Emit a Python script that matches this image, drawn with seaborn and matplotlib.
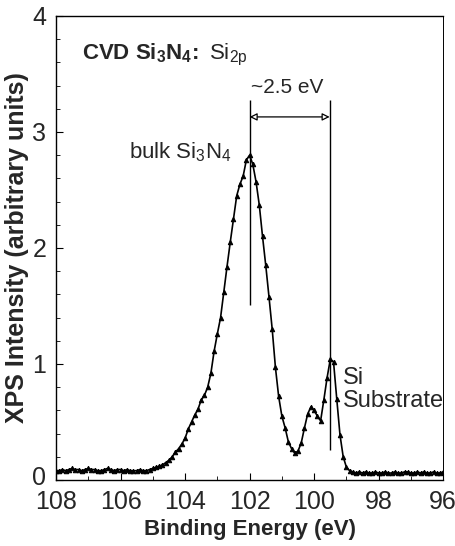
import numpy as np
import pandas as pd
import seaborn as sns
import matplotlib
matplotlib.use("Agg")
import matplotlib.pyplot as plt
from matplotlib.ticker import MultipleLocator
from matplotlib.transforms import ScaledTranslation

# ---- data ----
energy = np.round(np.linspace(108.0, 96.0, 121), 1)
baseline_left = [0.08, 0.08, 0.09, 0.08, 0.09, 0.10, 0.09, 0.09, 0.08, 0.09,
                 0.10, 0.09, 0.09, 0.08, 0.08, 0.09, 0.10, 0.09, 0.08, 0.09,
                 0.09, 0.08, 0.09, 0.08, 0.08, 0.08, 0.09, 0.08, 0.08, 0.09]
peaks = [0.10, 0.11, 0.12, 0.13, 0.15, 0.17, 0.20, 0.24, 0.27, 0.31,
         0.36, 0.44, 0.50, 0.56, 0.61, 0.69, 0.73, 0.80, 0.92, 1.11,
         1.26, 1.40, 1.62, 1.84, 2.05, 2.25, 2.45, 2.55, 2.62, 2.76,
         2.80, 2.72, 2.57, 2.37, 2.10, 1.85, 1.58, 1.30, 0.97, 0.72,
         0.55, 0.45, 0.33, 0.27, 0.23, 0.25, 0.32, 0.45, 0.57, 0.63,
         0.60, 0.55, 0.51, 0.69, 0.88, 1.04, 1.02, 0.70, 0.39, 0.20,
         0.11]
baseline_right = [0.08, 0.07, 0.06, 0.07, 0.06, 0.07, 0.06, 0.06, 0.07, 0.06,
                  0.06, 0.07, 0.06, 0.06, 0.07, 0.06, 0.06, 0.07, 0.07, 0.06,
                  0.06, 0.07, 0.06, 0.07, 0.06, 0.06, 0.07, 0.06, 0.06, 0.07]
intensity = baseline_left + peaks + baseline_right

bulk_peak = 102.0
si_peak = 99.52
xticks = [108, 106, 104, 102, 100, 98, 96]
yticks = [0, 1, 2, 3, 4]

df = pd.DataFrame({"energy": energy, "intensity": intensity})

# ---- style ----
sns.set_style("ticks")
plt.rcParams["font.family"] = ["Liberation Sans", "DejaVu Sans"]
plt.rcParams["mathtext.fontset"] = "custom"
plt.rcParams["mathtext.rm"] = "Liberation Sans"
plt.rcParams["mathtext.bf"] = "Liberation Sans:bold"
plt.rcParams["mathtext.it"] = "Liberation Sans:italic"
plt.rcParams["mathtext.default"] = "regular"

fig = plt.figure(figsize=(4.56, 5.46), dpi=100)
ax = fig.add_axes([0.1228, 0.1209, 0.8492, 0.8498])

sns.lineplot(data=df, x="energy", y="intensity", ax=ax, color="black",
             lw=1.2, marker="^", markersize=3.2, markeredgecolor="black",
             markerfacecolor="black", sort=False)

ax.set_xlim(108, 96)
ax.set_ylim(0, 4)
ax.set_xticks(xticks)
ax.set_yticks(yticks)
ax.xaxis.set_minor_locator(MultipleLocator(1))
ax.yaxis.set_minor_locator(MultipleLocator(0.2))
ax.tick_params(axis="both", which="major", direction="in", length=5,
               width=0.8, labelsize=18, color="black")
ax.tick_params(axis="both", which="minor", direction="in", length=3,
               width=0.6, color="black")
ax.tick_params(axis="y", pad=7)
ax.tick_params(axis="x", pad=7)
for s in ax.spines.values():
    s.set_linewidth(1.0)
    s.set_color("black")
ax.spines["right"].set_linewidth(0.7)

# lift the "0" label slightly so it does not touch "108"
zero_lab = ax.yaxis.get_major_ticks()[0].label1
zero_lab.set_transform(zero_lab.get_transform() +
                       ScaledTranslation(0, 4 / 100, fig.dpi_scale_trans))

ax.set_xlabel("Binding Energy (eV)", fontsize=16, fontweight="bold", labelpad=4)
ax.set_ylabel("XPS Intensity (arbitrary units)", fontsize=18,
              fontweight="bold", labelpad=2)

# annotation lines
ax.vlines(bulk_peak, 1.51, 3.28, color="black", lw=1.0)
ax.vlines(si_peak, 0.26, 3.28, color="black", lw=1.0)
ax.annotate("", xy=(bulk_peak, 3.13), xytext=(si_peak, 3.13),
            arrowprops=dict(arrowstyle="<|-|>", fc="white", ec="black",
                            lw=0.9, mutation_scale=11, shrinkA=0, shrinkB=0))

ax.text(100.85, 3.38, "~2.5 eV", fontsize=15, ha="center", va="center")
ax.text(107.2, 3.66, r"$\mathbf{CVD\ Si_3N_4\!:}$ Si$_{2p}$", fontsize=16,
        ha="left", va="center")
ax.text(105.75, 2.83, r"bulk Si$_3$N$_4$", fontsize=16, ha="left", va="center")
ax.text(99.12, 0.78, "Si\nSubstrate", fontsize=17, ha="left", va="center",
        linespacing=1.05)

fig.savefig("out.png", dpi=100)
